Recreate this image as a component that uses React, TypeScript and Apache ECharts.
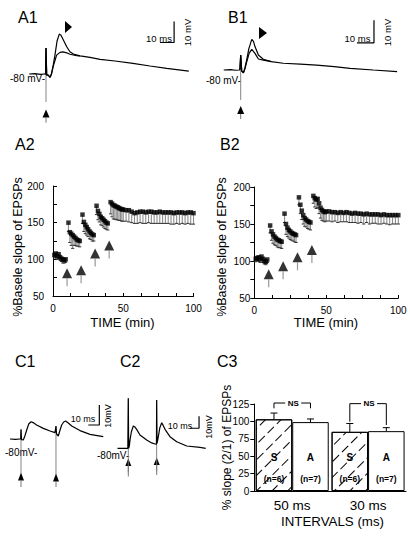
import React, { useEffect, useRef } from "react";
import * as echarts from "echarts";

const FONT = "Liberation Sans, Arial, sans-serif";

// ---------- A1 / B1 : single EPSP traces (time ms, membrane potential mV) ----------
const a1Potentiated: number[][] = [[-12,-80],[-8,-79.8],[-4,-80.2],[-1,-80],[-0.3,-80],[0,-67.6],[0.5,-80.5],[1.6,-80.5],[2.9,-81.6],[3.9,-80],[5.2,-75.7],[6.4,-71],[7.9,-64.3],[9.5,-61],[10.7,-61.5],[12.4,-63.8],[14.8,-67],[17.1,-69.4],[19.5,-70.5],[24.3,-71.4],[31.4,-72.1],[38.6,-73],[49.3,-73.8],[62.1,-74.9],[74.3,-76.2],[86.2,-77.3],[102,-78.6]];
const a1Control: number[][] = [[-1,-80],[-0.3,-80],[0,-67.6],[0.5,-80.5],[1.6,-80.5],[2.9,-81.6],[3.9,-80],[5.2,-76.2],[7.6,-71],[10,-69.7],[12.1,-69.5],[14.8,-69.9],[17.1,-70.6],[21.9,-71.3],[24.3,-71.4]];
const a1Artifact: number[][] = [[0,-67.6],[0,-93.3]];
const a1ScaleBar: number[][] = [[81.5,-65],[91.5,-65],[91.5,-55]];

const b1Potentiated: number[][] = [[-10,-80],[-6,-79.8],[-3,-80.1],[-0.5,-80],[0,-73.3],[0.6,-80.5],[1.6,-81.2],[2.5,-79],[3.5,-75.6],[4.8,-70.5],[6.5,-66.4],[7.5,-67.3],[8.4,-69.6],[10.4,-73.3],[13.3,-75.2],[18,-76.3],[25,-77],[35,-77.4],[44.7,-77.8],[55,-78.5],[64.3,-79.3],[78,-80],[92,-80.7]];
const b1Control: number[][] = [[-0.5,-80],[0,-73.3],[0.6,-80.5],[1.6,-81.2],[2.5,-79.5],[3.5,-76.5],[5,-72.5],[6.5,-70.8],[8.4,-72.6],[10.4,-75.1],[13.3,-75.6],[18,-76.3]];
const b1Artifact: number[][] = [[0,-73.3],[0,-93.3]];
const b1ScaleBar: number[][] = [[68.4,-67.9],[78.4,-67.9],[78.4,-57.9]];

// ---------- A2 / B2 : % baseline slope of EPSPs vs time (min) ----------
const sessionTimes = [1,2,3,4,5,6,7,8,9, 11,12,13,14,15,16,17,18,19, 21,22,23,24,25,26,27,28,29, 31,32,33,34,35,36,37,38,39, 41,42,43,44,45,46,47,48,49,50, 52,54,56,58,60,62,64,66,68,70,72,74,76,78,80,82,84,86,88,90,92,94,96,98,100];
const a2Slope = [106,108,104,107,103,101,100,99,100, 150,137,135,133,131,129,127,126,125, 161,151,147,144,141,138,136,134,133, 173,166,162,158,156,154,152,150,149, 178,176,174,173,172,171,170,169,168,168, 167,167,165,163,164,165,165,164,165,165,164,164,165,164,164,164,164,163,164,164,164,163,164,164,163];
const a2Err = [4,5,4,5,4,4,5,4,4, 12,14,16,18,12,10,9,8,8, 12,13,12,11,10,10,9,9,8, 12,12,11,11,10,10,10,9,9, 16,18,19,18,18,17,17,16,16,16, 15,16,15,14,15,15,16,15,15,16,15,15,16,15,15,15,16,15,15,16,15,15,15,16,15];
const b2Slope = [103,104,105,102,106,103,100,99,102, 148,140,136,133,131,129,128,127,126, 164,150,145,142,140,138,137,136,135, 186,176,168,162,158,156,154,153,152, 188,185,183,184,178,172,169,167,166,167, 167,166,166,165,166,165,166,165,164,165,164,164,163,164,163,163,163,163,162,163,162,162,162,162,162];
const b2Err = [4,4,5,4,4,5,4,4,4, 10,12,12,11,10,10,10,9,9, 12,14,12,11,11,10,10,10,10, 10,12,12,12,11,10,10,10,10, 10,12,12,12,14,14,14,13,13,13, 13,13,12,13,13,12,13,13,12,13,13,12,13,12,13,12,12,13,12,12,12,13,12,12,12];
const a2Arrows: number[][] = [[10,81],[20,85],[30,108],[40,119]];
const b2Arrows: number[][] = [[10,82],[20,93],[30,105],[40,115]];
const timeTicks = [0, 50, 100];
const slopeTicks = [50, 100, 150, 200];

// ---------- C1 / C2 : paired-pulse traces ----------
const c1Trace: number[][] = [[-10,-80],[-5,-80.2],[-1,-80],[-0.3,-80],[0,-75.2],[0.5,-80.3],[2.1,-80.5],[3.5,-78.5],[5.2,-75.5],[7,-72.5],[9.1,-71.4],[11,-71.8],[14.2,-73],[20.3,-74.7],[26.4,-76],[30.9,-76.8],[31.5,-76.9],[31.8,-73.5],[32.3,-77.5],[33.9,-78.5],[35.5,-75.5],[37,-73],[38.8,-71.5],[40.6,-71],[43,-72],[46.1,-73.5],[53.6,-75.8],[62.7,-77.7],[74.8,-78.8]];
const c1Artifacts: number[][][] = [[[0,-75.2],[0,-97.2]], [[31.8,-73.5],[31.8,-98]]];
const c1ScaleBar: number[][] = [[61.2,-73],[71.2,-73],[71.2,-63]];

const c2Trace: number[][] = [[-12,-80],[-6,-80],[-0.5,-80],[0,-38.3],[0.4,-80],[1.2,-78],[1.9,-73],[3.5,-66],[5.6,-61.4],[7,-62],[9.3,-64.2],[13,-68.9],[20.4,-73.1],[26,-75.5],[29.7,-76.4],[31.3,-76.5],[31.5,-39.8],[31.9,-76],[33,-72],[35,-63],[37.1,-58.7],[38.5,-60.5],[40.8,-64.2],[46.3,-70.3],[53.8,-74.5],[64.9,-78.1],[79.7,-79.2],[86,-80]];
const c2Artifacts: number[][][] = [[[0,-38.3],[0,-100]], [[31.5,-39.8],[31.5,-99]]];
const c2ScaleBar: number[][] = [[68.6,-63.3],[78.6,-63.3],[78.6,-53.3]];

// ---------- C3 : paired-pulse ratio ----------
const intervals = ["50 ms", "30 ms"];
const sRatio = [103, 85];
const sErr = [9, 12];
const sN = [6, 6];
const aRatio = [99, 86];
const aErr = [4.5, 5];
const aN = [7, 7];
// bracket: [interval index, top value, left end value, right end value]
const nsBrackets: number[][] = [[0, 126.4, 118.8, 118.8], [1, 125.5, 99.6, 94.8]];
const ratioTicks = [0, 25, 50, 75, 100, 125];

const BAR_W = 36.5;

function txt(text: string, x: number, y: number, size: number, opt: any = {}) {
  return {
    type: "text",
    x,
    y,
    rotation: opt.rot || 0,
    silent: true,
    style: {
      text,
      fontSize: size,
      fontFamily: FONT,
      fontWeight: opt.bold ? "bold" : "normal",
      fill: "#000",
      align: opt.align || "left",
      textAlign: opt.align || "left",
      verticalAlign: "middle",
      textVerticalAlign: "middle",
    },
  };
}

function upArrow(cx: number, tipY: number, w: number, h: number, stemEnd: number) {
  return [
    { type: "polygon", silent: true, shape: { points: [[cx, tipY], [cx - w / 2, tipY + h], [cx + w / 2, tipY + h]] }, style: { fill: "#000" } },
    { type: "line", silent: true, shape: { x1: cx, y1: tipY + h, x2: cx, y2: stemEnd }, style: { stroke: "#777", lineWidth: 1 } },
  ];
}

function rightHead(x: number, y: number, w: number, h: number) {
  return { type: "polygon", silent: true, shape: { points: [[x, y - h / 2], [x, y + h / 2], [x + w, y]] }, style: { fill: "#000" } };
}

function lineSeries(data: number[][], gi: number, width = 1.2, color = "#000") {
  return {
    type: "line",
    xAxisIndex: gi,
    yAxisIndex: gi,
    data,
    symbol: "none",
    showSymbol: false,
    silent: true,
    clip: false,
    lineStyle: { color, width },
    z: 3,
  };
}

function hiddenAxes(gi: number, xmin: number, xmax: number, ymin: number, ymax: number) {
  return {
    x: { type: "value", gridIndex: gi, min: xmin, max: xmax, show: false },
    y: { type: "value", gridIndex: gi, min: ymin, max: ymax, show: false },
  };
}

function errSeries(times: number[], vals: number[], errs: number[], gi: number) {
  return {
    type: "custom",
    xAxisIndex: gi,
    yAxisIndex: gi,
    silent: true,
    z: 2,
    data: times.map((t, i) => [t, vals[i], errs[i]]),
    encode: { x: 0, y: 1 },
    renderItem: (_p: any, api: any) => {
      const t = api.value(0), v = api.value(1), e = api.value(2);
      const a = api.coord([t, v]);
      const b = api.coord([t, v - e]);
      return {
        type: "group",
        children: [
          { type: "line", shape: { x1: a[0], y1: a[1], x2: b[0], y2: b[1] }, style: { stroke: "#8c8c8c", lineWidth: 1.1 } },
          { type: "line", shape: { x1: b[0] - 1.6, y1: b[1], x2: b[0] + 1.6, y2: b[1] }, style: { stroke: "#333", lineWidth: 1 } },
        ],
      };
    },
  };
}

function markerSeries(times: number[], vals: number[], gi: number) {
  return {
    type: "scatter",
    xAxisIndex: gi,
    yAxisIndex: gi,
    silent: true,
    z: 4,
    symbol: "rect",
    symbolSize: 4.5,
    itemStyle: { color: "#000" },
    data: times.map((t, i) => [t, vals[i]]),
  };
}

function arrowSeries(arrows: number[][], gi: number) {
  return [
    { type: "scatter", xAxisIndex: gi, yAxisIndex: gi, silent: true, z: 4, symbol: "triangle", symbolSize: [10, 10], itemStyle: { color: "#000" }, data: arrows },
    { type: "scatter", xAxisIndex: gi, yAxisIndex: gi, silent: true, z: 4, symbol: "rect", symbolSize: [1.2, 8], symbolOffset: [0, 9], itemStyle: { color: "#808080" }, data: arrows },
  ];
}

function timeAxis(gi: number) {
  return {
    type: "value", gridIndex: gi, min: 0, max: 100, interval: 50,
    axisLine: { show: true, lineStyle: { color: "#000", width: 1 } },
    axisTick: { show: true, inside: true, length: 3, lineStyle: { color: "#000" } },
    minorTick: { show: true, splitNumber: 4, length: 3, lineStyle: { color: "#000" } },
    splitLine: { show: false }, minorSplitLine: { show: false },
    axisLabel: { fontSize: 10, color: "#000", fontFamily: FONT, margin: 7, customValues: timeTicks },
  };
}

function slopeAxis(gi: number, inside: boolean, margin: number) {
  return {
    type: "value", gridIndex: gi, min: 50, max: 200, interval: 50,
    axisLine: { show: true, lineStyle: { color: "#000", width: 1 } },
    axisTick: { show: true, inside, length: 4, lineStyle: { color: "#000" } },
    minorTick: { show: true, splitNumber: 2, length: 4, lineStyle: { color: "#000" } },
    splitLine: { show: false }, minorSplitLine: { show: false },
    axisLabel: { fontSize: 10, color: "#000", fontFamily: FONT, margin, customValues: slopeTicks },
  };
}

export default function App() {
  const ref = useRef<HTMLDivElement>(null);

  useEffect(() => {
    if (!ref.current) return;
    const chart = echarts.init(ref.current, undefined, { renderer: "svg" });

    const axA1 = hiddenAxes(0, -12, 102, -96, -54);
    const axB1 = hiddenAxes(1, -10, 92, -96, -54);
    const axC1 = hiddenAxes(4, -10, 76, -100, -60);
    const axC2 = hiddenAxes(5, -12, 88, -108, -35);

    const grids = [
      { left: 29.2, top: 19.4, width: 159.6, height: 88.2 },
      { left: 223.7, top: 11.5, width: 173.4, height: 94.5 },
      { left: 53, top: 186, width: 140.5, height: 110 },
      { left: 254.3, top: 187, width: 144, height: 111 },
      { left: 10, top: 399, width: 94.6, height: 80 },
      { left: 117.5, top: 394.3, width: 90, height: 87.6 },
      { left: 254.3, top: 404, width: 151.7, height: 87 },
    ].map((g) => ({ ...g, containLabel: false, outerBoundsMode: "none" }));

    const xAxes: any[] = [
      axA1.x, axB1.x, timeAxis(2), timeAxis(3), axC1.x, axC2.x,
      {
        type: "category", gridIndex: 6, data: intervals, boundaryGap: true,
        axisLine: { show: true, lineStyle: { color: "#000", width: 1 } },
        axisTick: { show: false },
        axisLabel: { fontSize: 13.5, color: "#000", fontFamily: FONT, margin: 7 },
      },
    ];
    const yAxes: any[] = [
      axA1.y, axB1.y, slopeAxis(2, true, 9), slopeAxis(3, false, 4), axC1.y, axC2.y,
      {
        type: "value", gridIndex: 6, min: 0, max: 125, interval: 25,
        axisLine: { show: true, lineStyle: { color: "#000", width: 1 } },
        axisTick: { show: true, inside: false, length: 4, lineStyle: { color: "#000" } },
        splitLine: { show: false },
        axisLabel: { fontSize: 10, color: "#000", fontFamily: FONT, margin: 5, customValues: ratioTicks },
      },
    ];

    const barLabel = (names: string, ns: number[]) => ({
      show: true,
      position: "insideBottom",
      distance: 5,
      formatter: (p: any) => `{s|${names}}\n{n|(n=${ns[p.dataIndex]})}`,
      rich: {
        s: { fontSize: 10, fontWeight: "bold", fontFamily: FONT, color: "#000", lineHeight: 30 },
        n: { fontSize: 8.5, fontWeight: "bold", fontFamily: FONT, color: "#000", lineHeight: 14 },
      },
    });

    const series: any[] = [
      // A1
      lineSeries(a1Artifact, 0, 0.9, "#777"),
      lineSeries(a1Control, 0),
      lineSeries(a1Potentiated, 0),
      lineSeries(a1ScaleBar, 0, 1.2),
      // B1
      lineSeries(b1Artifact, 1, 0.9, "#777"),
      lineSeries(b1Control, 1),
      lineSeries(b1Potentiated, 1),
      lineSeries(b1ScaleBar, 1, 1.2),
      // A2
      errSeries(sessionTimes, a2Slope, a2Err, 2),
      markerSeries(sessionTimes, a2Slope, 2),
      ...arrowSeries(a2Arrows, 2),
      // B2
      errSeries(sessionTimes, b2Slope, b2Err, 3),
      markerSeries(sessionTimes, b2Slope, 3),
      ...arrowSeries(b2Arrows, 3),
      // C1
      ...c1Artifacts.map((a) => lineSeries(a, 4, 0.9, "#777")),
      lineSeries(c1Trace, 4),
      lineSeries(c1ScaleBar, 4, 1.2),
      // C2
      ...c2Artifacts.map((a) => lineSeries(a, 5, 0.9, "#777")),
      lineSeries(c2Trace, 5),
      lineSeries(c2ScaleBar, 5, 1.2),
      // C3 bars
      {
        type: "bar", xAxisIndex: 6, yAxisIndex: 6, name: "S", data: sRatio, barWidth: BAR_W, barGap: "0%",
        silent: true, z: 2,
        itemStyle: {
          color: "#fff", borderColor: "#000", borderWidth: 1,
          decal: { symbol: "rect", symbolSize: 1, dashArrayX: [[9, 4]], dashArrayY: [1, 10], rotation: -Math.PI / 4, color: "#000", backgroundColor: "#fff" },
        },
        label: barLabel("S", sN),
      },
      {
        type: "bar", xAxisIndex: 6, yAxisIndex: 6, name: "A", data: aRatio, barWidth: BAR_W, barGap: "0%",
        silent: true, z: 2,
        itemStyle: { color: "#fff", borderColor: "#000", borderWidth: 1 },
        label: barLabel("A", aN),
      },
      // C3 error bars
      {
        type: "custom", xAxisIndex: 6, yAxisIndex: 6, silent: true, z: 5,
        data: [
          [0, sRatio[0], sErr[0], -1], [0, aRatio[0], aErr[0], 1],
          [1, sRatio[1], sErr[1], -1], [1, aRatio[1], aErr[1], 1],
        ],
        encode: { x: 0, y: 1 },
        renderItem: (_p: any, api: any) => {
          const c = api.value(0), v = api.value(1), e = api.value(2), side = api.value(3);
          const a = api.coord([c, v]);
          const b = api.coord([c, v + e]);
          const x = a[0] + (side * BAR_W) / 2;
          return {
            type: "group",
            children: [
              { type: "line", shape: { x1: x, y1: a[1], x2: x, y2: b[1] }, style: { stroke: "#000", lineWidth: 1 } },
              { type: "line", shape: { x1: x - 3.5, y1: b[1], x2: x + 3.5, y2: b[1] }, style: { stroke: "#000", lineWidth: 1 } },
            ],
          };
        },
      },
      // C3 NS brackets
      {
        type: "custom", xAxisIndex: 6, yAxisIndex: 6, silent: true, z: 5,
        data: nsBrackets,
        encode: { x: 0, y: 1 },
        renderItem: (_p: any, api: any) => {
          const c = api.value(0), top = api.value(1), le = api.value(2), re = api.value(3);
          const pt = api.coord([c, top]);
          const pl = api.coord([c, le]);
          const pr = api.coord([c, re]);
          const xc = pt[0] + 1;
          const xl = pt[0] - BAR_W / 2, xr = pt[0] + BAR_W / 2;
          const st = { stroke: "#000", lineWidth: 1, fill: "none" };
          return {
            type: "group",
            children: [
              { type: "polyline", shape: { points: [[xl, pl[1]], [xl, pt[1]], [xc - 8, pt[1]]] }, style: st },
              { type: "polyline", shape: { points: [[xc + 8, pt[1]], [xr, pt[1]], [xr, pr[1]]] }, style: st },
              { type: "text", x: xc, y: pt[1], style: { text: "NS", fontSize: 8, fontWeight: "bold", fontFamily: FONT, fill: "#000", align: "center", verticalAlign: "middle" } },
            ],
          };
        },
      },
    ];

    const R = Math.PI / 2;
    const graphic: any[] = [
      // panel letters
      txt("A1", 18, 17, 16),
      txt("B1", 228, 17, 16),
      txt("A2", 15, 144, 16),
      txt("B2", 220, 144, 16),
      txt("C1", 15, 361, 16),
      txt("C2", 120, 361, 16),
      txt("C3", 217, 361, 16),
      // resting potential labels
      txt("-80 mV-", 10, 78, 10),
      txt("-80 mV-", 206, 80, 10),
      txt("-80mV-", 5, 452, 10),
      txt("-80mV-", 97, 455, 10),
      // scale bar labels
      txt("10 ms", 159, 38, 9.5, { align: "center" }),
      txt("10 mV", 187, 32.5, 9.5, { align: "center", rot: R }),
      txt("10 ms", 357.5, 38, 9.5, { align: "center" }),
      txt("10 mV", 387, 32.5, 9.5, { align: "center", rot: R }),
      txt("10 ms", 83, 419, 9, { align: "center" }),
      txt("10mV", 108.3, 416, 9, { align: "center", rot: R }),
      txt("10 ms", 180, 426, 9, { align: "center" }),
      txt("10mV", 209, 427, 9, { align: "center", rot: R }),
      // axis titles
      txt("%Basele slope of EPSPs", 18, 247, 12.5, { align: "center", rot: R }),
      txt("%Basele slope of EPSPs", 222, 247, 12.5, { align: "center", rot: R }),
      txt("TIME (min)", 122.5, 322, 13, { align: "center" }),
      txt("TIME (min)", 326, 322, 13, { align: "center" }),
      txt("% slope (2/1) of EPSPs", 227, 447.5, 12, { align: "center", rot: R }),
      txt("INTERVALS (ms)", 332.5, 521.5, 13.3, { align: "center" }),
      // EPSP potentiation arrowheads
      rightHead(65, 27, 7, 12),
      rightHead(259, 33, 8, 12),
      // stimulation arrows
      ...upArrow(46, 109.5, 7, 8, 122.7),
      ...upArrow(240.7, 106, 7, 8, 119),
      ...upArrow(21, 472.5, 6, 8, 487),
      ...upArrow(56, 473.5, 6, 8, 487),
      ...upArrow(128.3, 458.5, 6, 7.5, 476.5),
      ...upArrow(156.7, 457.5, 6, 7.5, 475),
    ];

    chart.setOption({
      animation: false,
      backgroundColor: "#fff",
      textStyle: { fontFamily: FONT, color: "#000" },
      grid: grids,
      xAxis: xAxes,
      yAxis: yAxes,
      series,
      graphic,
    });

    return () => chart.dispose();
  }, []);

  return (
    <div
      ref={ref}
      style={{ position: "fixed", left: 0, top: 0, width: 410, height: 539, background: "#fff" }}
    />
  );
}
